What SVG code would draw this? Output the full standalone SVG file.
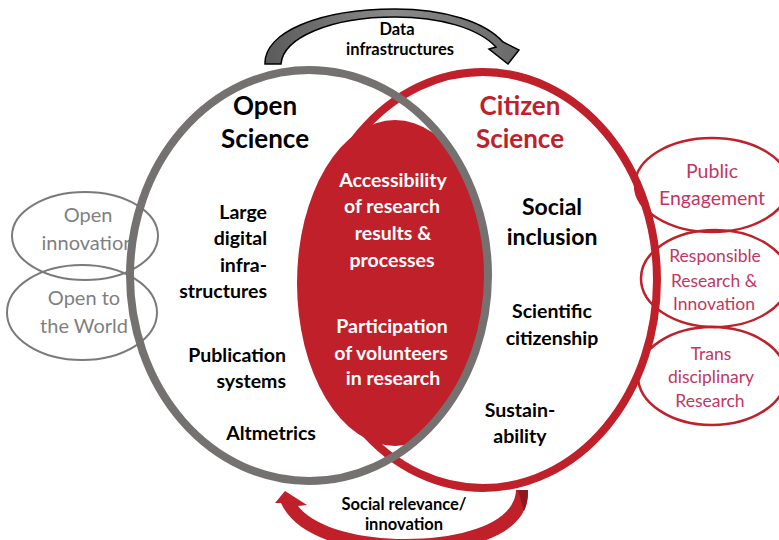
<svg xmlns="http://www.w3.org/2000/svg" width="779" height="540" viewBox="0 0 779 540">
  <defs>
    <style>
      .b { font-family: Lato, 'Liberation Sans', sans-serif; font-weight: bold; fill: #000; }
      .w { font-family: Lato, 'Liberation Sans', sans-serif; font-weight: bold; fill: #fff; font-size: 19.5px; text-anchor: middle; }
      .item { font-size: 19.5px; }
      .title { font-size: 26px; text-anchor: middle; }
      .lbl { font-size: 16.5px; text-anchor: middle; }
      .gtxt { font-family: Lato, 'Liberation Sans', sans-serif; fill: #7f7f7f; font-size: 20px; text-anchor: middle; }
      .rtxt { font-family: Lato, 'Liberation Sans', sans-serif; fill: #c43562; text-anchor: middle; }
      .small-g { fill: none; stroke: #7a7a7a; stroke-width: 2; }
      .small-r { fill: none; stroke: #c0202a; stroke-width: 2.5; }
    </style>
    <clipPath id="grayClip">
      <ellipse cx="309" cy="275.5" rx="179" ry="205.5"/>
    </clipPath>
    <linearGradient id="grayGrad" x1="0" y1="0" x2="1" y2="0">
      <stop offset="0" stop-color="#5a5a5a"/>
      <stop offset="0.5" stop-color="#8a8a8a"/>
      <stop offset="1" stop-color="#6a6a6a"/>
    </linearGradient>
  </defs>
  <rect width="779" height="540" fill="#fff"/>

  <g id="open-innovation">
    <ellipse class="small-g" cx="85" cy="236" rx="73" ry="44"/>
    <text class="gtxt" x="88" y="222">Open</text>
    <text class="gtxt" x="88" y="250">innovation</text>
  </g>
  <g id="open-to-the-world">
    <ellipse class="small-g" cx="82" cy="312.5" rx="75" ry="47.5"/>
    <text class="gtxt" x="84" y="305">Open to</text>
    <text class="gtxt" x="84" y="333">the World</text>
  </g>

  <g id="public-engagement">
    <ellipse class="small-r" cx="712" cy="185" rx="77" ry="47"/>
    <text class="rtxt" x="712" y="178" font-size="19.5">Public</text>
    <text class="rtxt" x="712" y="205" font-size="19.5">Engagement</text>
  </g>
  <g id="responsible-research">
    <ellipse class="small-r" cx="715" cy="278.5" rx="74" ry="48.5"/>
    <text class="rtxt" x="715" y="262" font-size="17.5">Responsible</text>
    <text class="rtxt" x="714" y="287" font-size="17.5">Research &amp;</text>
    <text class="rtxt" x="714" y="310" font-size="17.5">Innovation</text>
  </g>
  <g id="transdisciplinary-research">
    <ellipse class="small-r" cx="712" cy="376" rx="74" ry="49"/>
    <text class="rtxt" x="711" y="360" font-size="17.5">Trans</text>
    <text class="rtxt" x="711" y="383" font-size="17.5">disciplinary</text>
    <text class="rtxt" x="710" y="407" font-size="17.5">Research</text>
  </g>

  <g id="citizen-science">
    <ellipse cx="483" cy="280" rx="174" ry="208" fill="none" stroke="#c0202a" stroke-width="8"/>
    <text class="b title" x="520" y="115" style="fill:#c0202a">Citizen</text>
    <text class="b title" x="520" y="148" style="fill:#c0202a">Science</text>
    <text class="b" x="552" y="215" font-size="23" text-anchor="middle">Social</text>
    <text class="b" x="552" y="245" font-size="23" text-anchor="middle">inclusion</text>
    <text class="b item" x="552" y="318" text-anchor="middle">Scientific</text>
    <text class="b item" x="552" y="345" text-anchor="middle">citizenship</text>
    <text class="b item" x="520" y="417" text-anchor="middle">Sustain-</text>
    <text class="b item" x="520" y="443" text-anchor="middle">ability</text>
  </g>

  <g id="overlap">
    <ellipse cx="395" cy="283" rx="98" ry="163" fill="#c0202a" clip-path="url(#grayClip)"/>
    <text class="w" x="393" y="187">Accessibility</text>
    <text class="w" x="392" y="213">of research</text>
    <text class="w" x="393" y="240">results &amp;</text>
    <text class="w" x="392" y="267">processes</text>
    <text class="w" x="392" y="333">Participation</text>
    <text class="w" x="391" y="360">of volunteers</text>
    <text class="w" x="393" y="385">in research</text>
  </g>

  <g id="open-science">
    <ellipse cx="309" cy="275.5" rx="179" ry="205.5" fill="none" stroke="#767171" stroke-width="8"/>
    <text class="b title" x="265" y="115">Open</text>
    <text class="b title" x="265" y="148">Science</text>
    <text class="b item" x="267" y="219" text-anchor="end">Large</text>
    <text class="b item" x="267" y="245" text-anchor="end">digital</text>
    <text class="b item" x="267" y="272" text-anchor="end">infra-</text>
    <text class="b item" x="267" y="298" text-anchor="end">structures</text>
    <text class="b item" x="286" y="362" text-anchor="end">Publication</text>
    <text class="b item" x="286" y="388" text-anchor="end">systems</text>
    <text class="b item" x="271" y="440" text-anchor="middle">Altmetrics</text>
  </g>

  <g id="connectors">
    <path d="M 265,64 C 264,32 320,9 395,9 C 445,9 485,22 503,42 L 519,50 L 508,64 L 489,49 L 496,47 C 478,28 440,17 395,17 C 330,17 283,38 281,64 Z" fill="url(#grayGrad)" stroke="#000" stroke-width="1.5" stroke-linejoin="miter"/>
    <text class="b lbl" x="397" y="35">Data</text>
    <text class="b lbl" x="400" y="55">infrastructures</text>
    <path d="M 528,490 C 530,535 470,552 405,552 C 345,552 295,535 281,503 L 275,503 L 285,491 L 307,505 L 298,506 C 315,528 360,539 405,539 C 465,539 515,522 516,490 Z" fill="#c0202a"/>
    <path d="M 518,490 L 528,490 C 528,498 527,505 524,511 Z" fill="#8e1820"/>
    <text class="b lbl" x="404" y="510">Social relevance/</text>
    <text class="b lbl" x="404" y="530">innovation</text>
  </g>
</svg>
